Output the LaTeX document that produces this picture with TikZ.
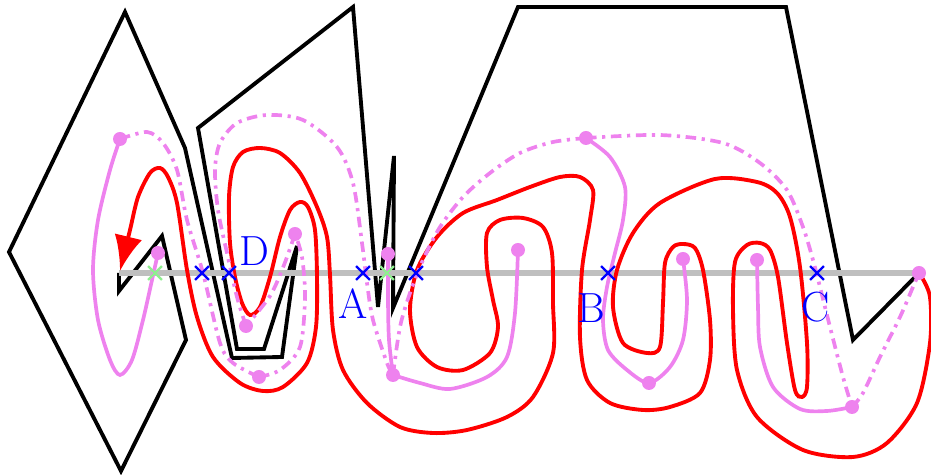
\documentclass[tikz,border=0pt]{standalone}
\usetikzlibrary{arrows.meta,shapes.misc}
\definecolor{pinkviolet}{RGB}{238,130,238}
\definecolor{palegreen}{RGB}{144,238,144}

\begin{document}
\begin{tikzpicture}[x=0.02cm, y=-0.02cm,
  wall/.style={draw=black, line width=2.2pt},
  ray/.style={draw=black!25, line width=3pt},
  trace/.style={draw=red, line width=2.2pt},
  solidseg/.style={draw=pinkviolet, line width=2.1pt},
  jumpseg/.style={draw=pinkviolet, line width=2.1pt, dash pattern=on 6pt off 3.2pt on 1.8pt off 3.2pt},
  dot/.style={fill=pinkviolet},
  hitx/.style={cross out, draw=blue, line width=1.3pt, minimum size=0.23cm, inner sep=0pt},
  passx/.style={hitx, draw=palegreen},
  tag/.style={text=blue, font=\fontsize{24}{26}\selectfont, inner sep=0pt}
]
\useasboundingbox (0,0) rectangle (931,475);

% polygon
\draw[wall] (119,273) -- (119,291) -- (162,236) -- (186,340) -- (121,471) -- (9,252)
  -- (125,12) -- (185,148) -- (232,358) -- (282,357) -- (297,246) -- (264,349)
  -- (237,349) -- (198,128) -- (353,7) -- (378,307) -- (394,156) -- (393,308)
  -- (518,7) -- (786,7) -- (853,340) -- (919,273);

% ray
\coordinate (r0) at (119,273);
\coordinate (r1) at (919,273);
\draw[ray] (r0) -- (r1);

% red walk
\draw[trace, -{Latex[length=20pt,width=16pt]}] plot[smooth] coordinates {
  (921,276) (930,297) (930,343) (917,403) (887,443) (853,457) (803,450) (757,417)
  (737,370) (733,310) (735,262) (747,245) (760,243) (770,250) (778,277) (787,343)
  (795,390) (802,397) (807,387) (807,343) (800,267) (790,217) (777,193) (757,182)
  (715,179) (660,203) (633,233) (617,270) (613,307) (623,343) (647,353) (660,347)
  (663,303) (665,263) (673,247) (683,244) (695,248) (703,270) (710,320) (710,360)
  (700,393) (670,407) (643,410) (610,403) (587,380) (580,337) (582,270) (590,220)
  (593,190) (580,177) (560,177) (530,187) (497,200) (463,213) (437,237) (417,270)
  (410,310) (417,347) (437,367) (463,370) (490,353) (498,327) (493,300) (487,267)
  (487,233) (500,220) (523,218) (543,227) (552,253) (553,303) (553,353) (533,397)
  (507,417) (467,430) (433,433) (400,427) (367,403) (343,370) (333,330) (330,275)
  (327,237) (317,207) (300,173) (280,153) (260,148) (243,152) (233,167) (229,197)
  (230,243) (235,277) (242,303) (250,315) (260,307) (270,277) (280,237) (290,210)
  (300,202) (308,207) (315,230) (317,277) (316,327) (307,363) (283,387) (263,391)
  (240,383) (213,357) (197,317) (187,270) (177,203) (168,177) (160,168) (150,173)
  (138,197) (130,230) (120,271)};

% violet points
\coordinate (p1) at (120,139);
\coordinate (p3) at (259,377);
\coordinate (p4) at (295,234);
\coordinate (p5) at (246,326);
\coordinate (p6) at (393,375);
\coordinate (p7) at (586,138);
\coordinate (p8) at (852,407);
\coordinate (p10) at (649,383);
\coordinate (q1) at (158,253);
\coordinate (q2) at (388,254);
\coordinate (q3) at (518,250);
\coordinate (q4) at (683,259);
\coordinate (q5) at (757,260);

% solid pieces
\draw[solidseg] plot[smooth] coordinates {(p1) (110,170) (98,220) (93,270) (98,320)
  (110,360) (120,375) (132,360) (143,320) (152,280) (q1)};
\draw[solidseg] plot[smooth] coordinates {(q2) (388,300) (389,340) (p6)};
\draw[solidseg] plot[smooth] coordinates {(p6) (420,383) (450,389) (487,377) (507,357)
  (515,313) (q3)};
\draw[solidseg] plot[smooth] coordinates {(p7) (610,157) (625,187) (623,220) (615,253)
  (607,287) (603,320) (608,350) (627,370) (p10) (670,367) (683,340) (687,300) (q4)};
\draw[solidseg] plot[smooth] coordinates {(q5) (758,307) (760,347) (773,387) (800,409)
  (827,411) (p8)};

% dash-dot pieces
\draw[jumpseg] plot[smooth] coordinates {(p1) (147,132) (163,143) (177,170) (187,220)
  (203,273) (220,343) (233,363) (p3)};
\draw[jumpseg] plot[smooth] coordinates {(p3) (280,370) (300,347) (305,297) (302,257) (p4)};
\draw[jumpseg] plot[smooth] coordinates {(p4) (284,265) (270,296) (p5)};
\draw[jumpseg] plot[smooth] coordinates {(p5) (237,297) (227,253) (218,210) (215,170)
  (220,143) (237,123) (267,115) (303,120) (337,147) (353,183) (362,243) (367,283)
  (373,320) (387,363) (p6)};
\draw[jumpseg] plot[smooth] coordinates {(p6) (400,327) (410,293) (423,260) (440,227)
  (463,197) (490,173) (520,153) (553,142) (p7)};
\draw[jumpseg] plot[smooth] coordinates {(p7) (660,135) (723,143) (760,163) (787,190)
  (803,227) (813,260) (820,287) (830,327) (843,377) (p8)};
\draw[jumpseg] plot[smooth] coordinates {(p8) (863,393) (880,357) (900,317) (913,287) (r1)};

\foreach \p in {p1,p3,p4,p5,p6,p7,p8,p10,q1,q2,q3,q4,q5,r1}
  \fill[dot] (\p) circle[radius=7];

% crossings
\node[passx] (g1) at (155,273) {};
\node[passx] (g2) at (387,273) {};
\node[hitx] (xD1) at (202,273) {};
\node[hitx] (xD) at (229,273) {};
\node[hitx] (xA) at (363,273) {};
\node[hitx] (xA2) at (416,273) {};
\node[hitx] (xB) at (608,273) {};
\node[hitx] (xC) at (817,273) {};

\node[tag] (tD) at (254,251) {D};
\node[tag] (tA) at (353,304) {A};
\node[tag] (tB) at (591,308) {B};
\node[tag] (tC) at (816,307) {C};

\end{tikzpicture}
\end{document}
